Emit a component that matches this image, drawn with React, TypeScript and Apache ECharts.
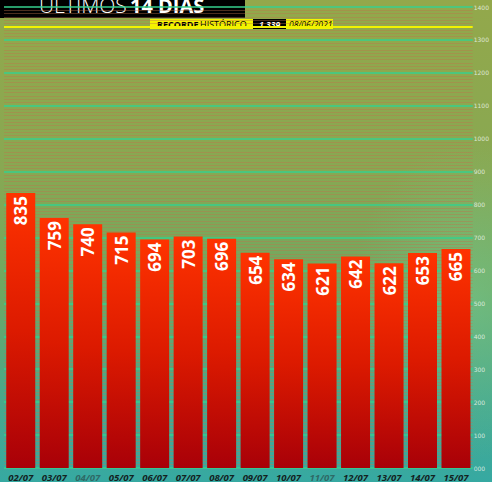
import React, { useEffect, useRef } from "react";
import * as echarts from "echarts";

const categories = ["02/07", "03/07", "04/07", "05/07", "06/07", "07/07", "08/07", "09/07", "10/07", "11/07", "12/07", "13/07", "14/07", "15/07"];
const values = [835, 759, 740, 715, 694, 703, 696, 654, 634, 621, 642, 622, 653, 665];
const sundays = ["04/07", "11/07"];
const recordValue = 1339;
const recordLabel = "1.339";
const recordDate = "08/06/2021";
const titleLight = "ÚLTIMOS";
const titleBold = "14 DIAS";

export default function App() {
  const ref = useRef<HTMLDivElement>(null);
  useEffect(() => {
    if (!ref.current) return;
    const chart = echarts.init(ref.current, null, { renderer: "svg" });
    chart.setOption({
      animation: false,
      backgroundColor: "transparent",
      grid: { left: 4, right: 16, top: 7, bottom: 14, containLabel: false },
      xAxis: {
        type: "category",
        data: categories,
        axisLine: { show: false },
        axisTick: { show: false },
        axisLabel: {
          margin: 4,
          interval: 0,
          formatter: (v: string) => (sundays.includes(v) ? `{s|${v}}` : `{d|${v}}`),
          rich: {
            d: { color: "#13221f", fontSize: 9.5, fontStyle: "italic", fontWeight: "bold", fontFamily: "Open Sans" },
            s: { color: "#2f6a66", fontSize: 9.5, fontStyle: "italic", fontWeight: "bold", fontFamily: "Open Sans" },
          },
        },
      },
      yAxis: {
        type: "value",
        position: "right",
        min: 0,
        max: 1400,
        interval: 100,
        axisLine: { show: false },
        axisTick: { show: false },
        axisLabel: {
          margin: 1,
          fontSize: 6,
          color: "rgba(235,245,235,0.85)",
          fontFamily: "DejaVu Sans",
          formatter: (v: number) => (v === 0 ? "000" : String(v)),
        },
        splitLine: { lineStyle: { color: "#36d08e", width: 1.5 } },
        minorTick: { show: false, splitNumber: 10 },
        minorSplitLine: { show: true, lineStyle: { color: "rgba(190,115,75,0.4)", width: 1 } },
      },
      series: [
        {
          type: "bar",
          data: values,
          barWidth: 29,
          itemStyle: {
            color: new echarts.graphic.LinearGradient(0, 0, 0, 1, [
              { offset: 0, color: "#ff3300" },
              { offset: 0.5, color: "#dc1a00" },
              { offset: 1, color: "#a80008" },
            ]),
          },
          label: {
            show: true,
            position: "insideTop",
            rotate: 90,
            align: "right",
            verticalAlign: "middle",
            distance: 3,
            color: "#ffffff",
            fontSize: 17,
            fontWeight: "bold",
            fontFamily: "Open Sans",
          },
          markLine: {
            silent: true,
            symbol: "none",
            label: { show: false },
            lineStyle: { color: "#f2f200", width: 2, type: "solid" },
            data: [{ yAxis: recordValue }],
          },
        },
      ],
      graphic: [
        { type: "rect", shape: { x: 0, y: 0, width: 245, height: 18 }, style: { fill: "#000" } },
        {
          type: "text",
          x: 39,
          y: 5,
          style: { text: titleLight, fill: "#fff", fontSize: 21, fontFamily: "Open Sans", fontWeight: 300, verticalAlign: "middle" },
        },
        {
          type: "text",
          x: 130,
          y: 5,
          style: { text: titleBold, fill: "#fff", fontSize: 20, fontFamily: "Open Sans", fontWeight: "bold", verticalAlign: "middle" },
        },
        { type: "rect", shape: { x: 150, y: 19, width: 183, height: 10 }, style: { fill: "#f4f400" } },
        { type: "rect", shape: { x: 253, y: 19, width: 33, height: 10 }, style: { fill: "#000" } },
        {
          type: "text",
          x: 157,
          y: 24.5,
          style: { text: "RECORDE", fill: "#000", fontSize: 9, fontFamily: "Open Sans", fontWeight: "bold", verticalAlign: "middle" },
        },
        {
          type: "text",
          x: 200,
          y: 24.5,
          style: { text: "HISTÓRICO", fill: "#000", fontSize: 9, fontFamily: "Open Sans", verticalAlign: "middle" },
        },
        {
          type: "text",
          x: 269.5,
          y: 24.5,
          style: { text: recordLabel, fill: "#fff", fontSize: 8.5, fontFamily: "Open Sans", fontStyle: "italic", fontWeight: "bold", align: "center", verticalAlign: "middle" },
        },
        {
          type: "text",
          x: 289,
          y: 24.5,
          style: { text: recordDate, fill: "#000", fontSize: 8.5, fontFamily: "Open Sans", fontStyle: "italic", verticalAlign: "middle" },
        },
      ],
    });
    return () => chart.dispose();
  }, []);
  return (
    <div
      style={{
        position: "fixed",
        left: 0,
        top: 0,
        width: 492,
        height: 482,
        background:
          "radial-gradient(ellipse 120px 160px at 470px 300px, rgba(120,220,170,0.35), rgba(120,220,170,0) 100%), linear-gradient(180deg, #93a84b 0%, #88a852 35%, #6fa862 60%, #4aa88a 82%, #36a9a2 100%)",
      }}
    >
      <div ref={ref} style={{ width: 492, height: 482 }} />
    </div>
  );
}
